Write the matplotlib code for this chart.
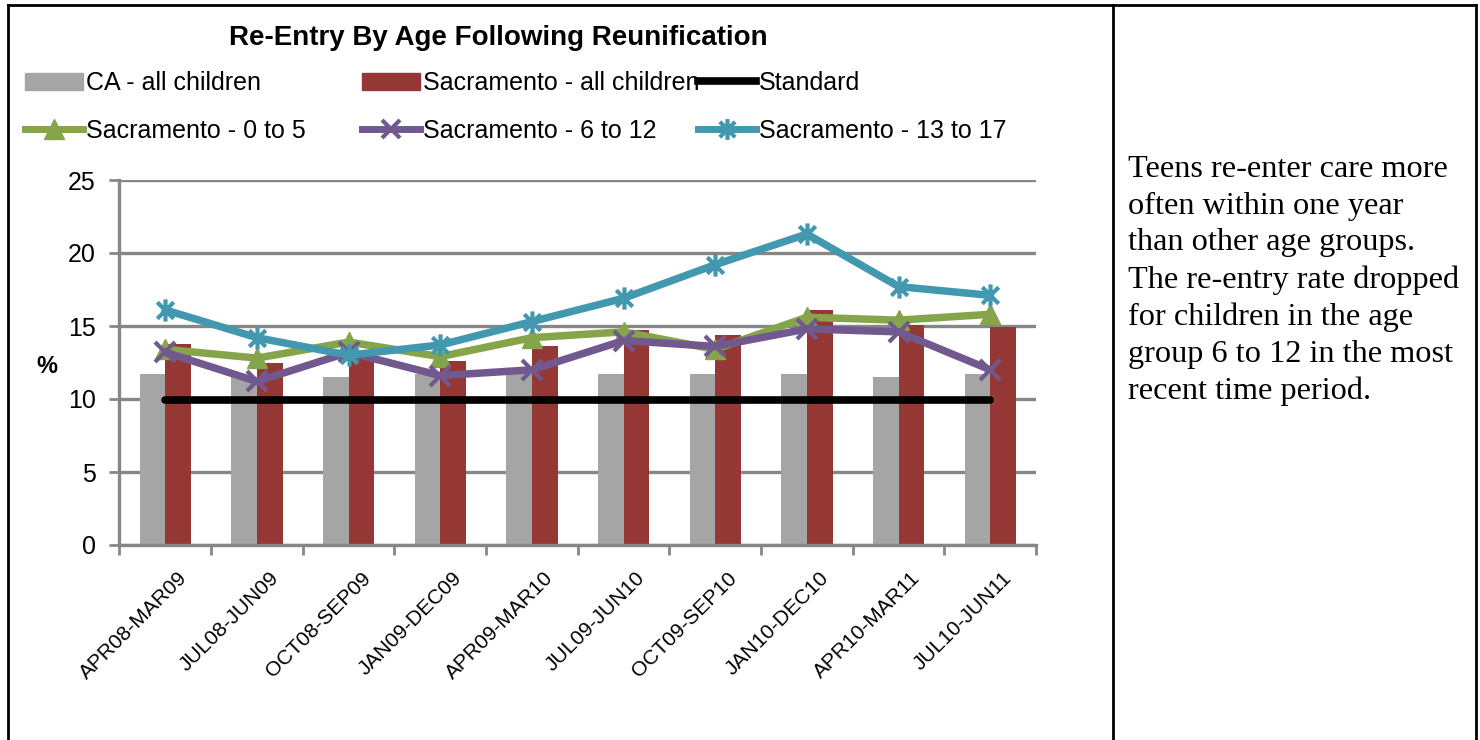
import numpy as np
import matplotlib
matplotlib.use("Agg")
import matplotlib.pyplot as plt
import matplotlib.transforms as mtransforms
from matplotlib.lines import Line2D
from matplotlib.patches import Patch
from matplotlib.path import Path

W, H = 1480, 740

periods = [
    "APR08-MAR09", "JUL08-JUN09", "OCT08-SEP09", "JAN09-DEC09", "APR09-MAR10",
    "JUL09-JUN10", "OCT09-SEP10", "JAN10-DEC10", "APR10-MAR11", "JUL10-JUN11",
]
ca_all = [11.7, 11.5, 11.5, 11.7, 11.7, 11.7, 11.7, 11.7, 11.5, 11.7]
sac_all = [13.8, 12.5, 13.0, 12.6, 13.6, 14.7, 14.4, 16.1, 15.1, 14.9]
standard = [9.9] * 10
sac_0_5 = [13.4, 12.8, 13.9, 12.9, 14.2, 14.6, 13.4, 15.6, 15.4, 15.8]
sac_6_12 = [13.2, 11.2, 13.2, 11.6, 12.0, 14.0, 13.6, 14.8, 14.6, 12.0]
sac_13_17 = [16.1, 14.2, 13.0, 13.7, 15.3, 16.9, 19.2, 21.3, 17.7, 17.1]

note = ("Teens re-enter care more\noften within one year\nthan other age groups.\n"
        "The re-entry rate dropped\nfor children in the age\ngroup 6 to 12 in the most\n"
        "recent time period.")

SANS = ["Liberation Sans", "DejaVu Sans"]
GRID = "#868686"
C_GRAY, C_RED = "#A5A5A5", "#953735"
C_GREEN, C_PURPLE, C_TEAL = "#86A44A", "#71588F", "#4198AF"

# Excel-style asterisk: X plus vertical bar
star = Path(
    [(-1, -1), (1, 1), (-1, 1), (1, -1), (0, -1.35), (0, 1.35)],
    [Path.MOVETO, Path.LINETO, Path.MOVETO, Path.LINETO, Path.MOVETO, Path.LINETO],
)

fig = plt.figure(figsize=(W / 100, H / 100), dpi=100)


def px(x0, y0, x1, y1):
    return [x0 / W, 1 - y1 / H, (x1 - x0) / W, (y1 - y0) / H]


ax = fig.add_axes(px(119.5, 180, 1036, 545))
x = np.arange(len(periods))
bw = 0.28

ax.bar(x - bw / 2, ca_all, bw, color=C_GRAY, zorder=2)
ax.bar(x + bw / 2, sac_all, bw, color=C_RED, zorder=2)
ax.plot(x, standard, color="black", lw=5.5, solid_capstyle="round", zorder=3)

line_kw = dict(lw=5.4, solid_joinstyle="round", zorder=4)
ax.plot(x, sac_0_5, color=C_GREEN, marker="^", ms=15, mec=C_GREEN, **line_kw)
ax.plot(x, sac_6_12, color=C_PURPLE, marker="x", ms=15, mew=3, **line_kw)
ax.plot(x, sac_13_17, color=C_TEAL, marker=star, ms=16, mew=3, **line_kw)

ax.set_xlim(-0.5, len(periods) - 0.5)
ax.set_ylim(0, 25)
ax.set_yticks([0, 5, 10, 15, 20, 25])
ax.yaxis.grid(True, color=GRID, lw=2.4, zorder=1)
ax.set_axisbelow(True)
for s in ["top", "right"]:
    ax.spines[s].set_visible(False)
for s in ["left", "bottom"]:
    ax.spines[s].set_color(GRID)
    ax.spines[s].set_linewidth(2.4)
ax.tick_params(axis="y", direction="out", length=7, width=2, color=GRID,
               labelsize=18, pad=10)
for lab in ax.get_yticklabels():
    lab.set_family(SANS)

ax.set_xticks(x)
ax.set_xticks(np.arange(-0.5, len(periods)), minor=True)
ax.tick_params(axis="x", which="major", length=0, pad=17)
ax.tick_params(axis="x", which="minor", direction="out", length=7, width=2, color=GRID)
ax.set_xticklabels(periods, rotation=45, ha="right", rotation_mode="anchor",
                   fontsize=15, family=SANS)
shift = mtransforms.ScaledTranslation(12 / 100, 0, fig.dpi_scale_trans)
for lab in ax.get_xticklabels():
    lab.set_transform(lab.get_transform() + shift)

fig.text(47 / W, 1 - 367 / H, "%", fontsize=17, fontweight="bold",
         family=SANS, ha="center", va="center")

fig.text(498 / W, 1 - 38 / H, "Re-Entry By Age Following Reunification",
         fontsize=20, fontweight="bold", family=SANS, ha="center", va="center")

# legend in three columns
cols = [
    ([Patch(color=C_GRAY), Line2D([], [], color=C_GREEN, lw=5, marker="^", ms=14)],
     ["CA - all children", "Sacramento - 0 to 5"], 25),
    ([Patch(color=C_RED), Line2D([], [], color=C_PURPLE, lw=5, marker="x", ms=13, mew=3)],
     ["Sacramento - all children", "Sacramento - 6 to 12"], 362),
    ([Line2D([], [], color="black", lw=5.5),
      Line2D([], [], color=C_TEAL, lw=5, marker=star, ms=15, mew=3)],
     ["Standard", "Sacramento - 13 to 17"], 698),
]
for handles, labels, lx in cols:
    leg = fig.legend(handles, labels, loc="upper left",
                     bbox_to_anchor=(lx / W, 1 - 71 / H), frameon=False,
                     prop={"family": SANS, "size": 18}, handlelength=2.3,
                     handletextpad=0.15, labelspacing=0.95, borderaxespad=0,
                     borderpad=0)

fig.text(1128 / W, 1 - 155 / H, note, fontsize=23.2, family="Liberation Serif",
         ha="left", va="top", linespacing=1.35)

# table cell borders
for xs, ys in [((8, 8), (5, 740)), ((1113, 1113), (5, 740)),
               ((1476, 1476), (5, 740)), ((8, 1476), (5, 5))]:
    fig.add_artist(Line2D([v / W for v in xs], [1 - v / H for v in ys],
                          color="black", lw=2))

fig.savefig("out.png", dpi=100)
